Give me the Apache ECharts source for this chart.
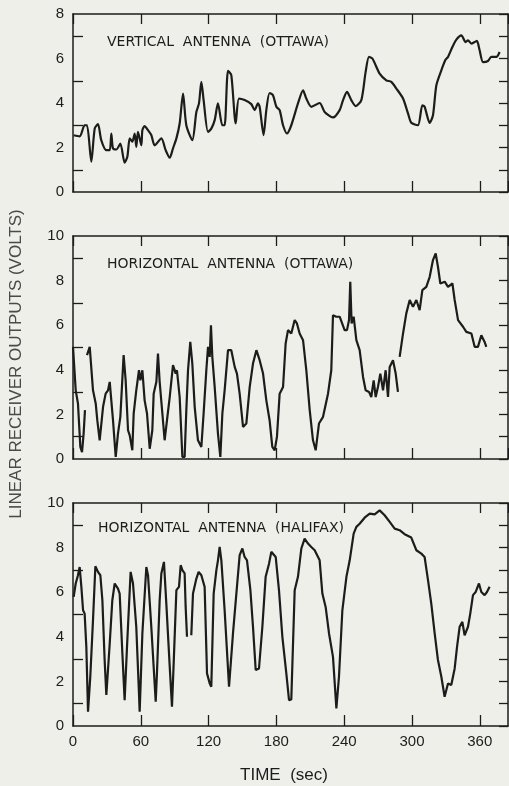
<!DOCTYPE html>
<html>
<head>
<meta charset="utf-8">
<script src="https://cdn.jsdelivr.net/npm/echarts@6/dist/echarts.min.js"></script>
<style>
  html, body { margin: 0; padding: 0; background: #efefe9; }
  #chart { width: 509px; height: 786px; }
</style>
</head>
<body>
<div id="chart"></div>
<script>
// time ticks (sec)
var timeTicks = [0, 60, 120, 180, 240, 300, 360];

// vertical antenna (Ottawa)
var vertTime = [0.6, 5.9, 10.3, 12.4, 16.2, 19.2, 22.1, 25, 29.5, 32.5, 33.9, 35.4, 38.4, 41.9, 45.7, 48.1, 50.2, 52.5, 54.6, 56, 57.5, 60.5, 61.4, 63.4, 66.4, 69.3, 72.3, 78.2, 82, 85.6, 88.5, 91.5, 94.4, 97.4, 100.3, 105.6, 109.2, 111.5, 113.6, 115.6, 119.5, 122.4, 125.4, 128.3, 132.2, 134.2, 137.2, 140.1, 144, 146.9, 151.9, 157.8, 160.8, 163.7, 165.2, 168.7, 171.1, 174, 177, 180, 182.9, 185.9, 189.4, 193.2, 199.1, 203.6, 206.5, 210.9, 218.3, 222.7, 230.1, 236, 239, 242.5, 246.3, 250.2, 255.2, 259, 262, 265, 271.4, 277.3, 281.7, 286.2, 292.1, 296.5, 299.4, 305.3, 309.2, 311.2, 315.7, 318.6, 321.6, 326, 329.8, 331.9, 335.8, 339.3, 343.7, 347.5, 349.6, 352.6, 355.5, 357.5, 359.9, 362.9, 367.3, 370.2, 374.7, 377.6];
var vertVolts = [2.55, 2.5, 3.0, 3.0, 1.36, 2.85, 3.05, 2.33, 1.88, 1.88, 2.63, 1.96, 1.91, 2.18, 1.32, 1.58, 2.41, 2.26, 2.63, 2.03, 2.7, 2.1, 2.78, 2.96, 2.78, 2.56, 2.1, 2.41, 1.88, 1.54, 1.96, 2.41, 3.08, 4.42, 3.0, 2.33, 3.6, 3.98, 4.95, 4.13, 2.7, 2.85, 3.23, 3.98, 3.0, 3.0, 5.44, 5.25, 3.08, 4.2, 4.13, 3.95, 3.68, 3.98, 3.83, 2.56, 3.68, 4.45, 4.35, 3.83, 3.68, 3.0, 2.63, 3.0, 3.98, 4.57, 4.2, 3.83, 4.0, 3.6, 3.35, 3.68, 4.13, 4.5, 4.13, 3.86, 4.13, 5.4, 6.07, 6.0, 5.32, 5.02, 4.95, 4.65, 4.2, 3.53, 3.11, 3.0, 3.9, 3.83, 3.11, 3.45, 4.8, 5.47, 5.95, 6.07, 6.52, 6.85, 7.04, 6.74, 6.82, 6.67, 6.74, 6.79, 6.37, 5.84, 5.89, 6.07, 6.07, 6.29];

// horizontal antenna (Ottawa); '-' marks a break in the trace
var horOttTime = [0, 2.4, 4.4, 6.5, 8, 9.4, 10.6, 11.5, 12.4, 14.8, 16.2, 17.7, 20.1, 21.5, 23.6, 26.6, 28.9, 31, 32.5, 33.9, 35.4, 37.8, 39.8, 41.9, 44.8, 46.6, 48.7, 50.2, 52.5, 53.7, 56, 58.4, 59.6, 61.4, 63.4, 65.5, 67.9, 70.2, 71.4, 73.8, 75.2, 76.7, 79.1, 81.1, 83.2, 85.6, 88.5, 90.9, 92, 94.4, 96.8, 98.8, 100.3, 101.8, 103.8, 105.6, 107.7, 110.6, 113.6, 115.6, 118, 119.5, 121, 122.1, 123.3, 125.4, 128.3, 130.4, 132.2, 134.2, 137.2, 140.1, 143.1, 145.1, 147.5, 150.5, 153.4, 156.4, 159.3, 162.3, 165.2, 168.2, 171.1, 174, 176.4, 178.5, 180.5, 182.9, 185.9, 188.2, 190.3, 193.2, 196.2, 198.2, 200.6, 203.6, 206.5, 209.5, 212.4, 214.8, 217.7, 221.3, 225.7, 228.6, 230.1, 233, 236, 240.4, 242.5, 244.3, 245.4, 246.6, 248.4, 250.8, 253.7, 256.7, 259, 262, 264, 266.1, 267.9, 269.9, 272, 274.4, 276.7, 278.8, 280.3, 283.2, 285.6, 287.6, 288.4, 289.1, 292.1, 295, 298, 300.9, 303.9, 306.8, 309.2, 312.7, 315.7, 318.6, 321, 323, 325.1, 329, 331.9, 335.8, 337.8, 340.8, 345.2, 348.1, 352.6, 355.5, 358.4, 361.4, 364.3, 365.8];
var horOttVolts = [5.03, 3.08, 2.49, 0.54, 0.31, 1.14, 2.19, '-', 4.66, 5.03, 4.96, 3.08, 2.49, 1.74, 0.84, 2.34, 2.93, 3.08, 3.46, 2.63, 1.74, 0.09, 1.14, 1.89, 4.66, 3.53, 1.29, 1.06, 0.39, 2.04, 3.08, 3.98, 3.53, 3.98, 2.63, 2.04, 0.46, 1.29, 2.93, 3.46, 4.73, 3.46, 2.04, 0.84, 1.74, 2.78, 4.21, 3.83, 3.98, 2.78, 0.09, 0.09, 2.19, 3.98, 5.25, 4.28, 2.34, 0.84, 0.54, 2.04, 3.98, 5.03, 4.58, 6.0, 4.58, 3.23, 1.14, 0.09, 2.04, 3.08, 4.88, 4.88, 4.13, 3.83, 2.93, 1.44, 1.59, 3.23, 4.28, 4.88, 4.43, 3.83, 2.63, 1.74, 0.54, 0.39, 0.99, 2.93, 3.23, 5.18, 5.78, 5.63, 6.23, 6.08, 5.63, 5.33, 3.98, 2.19, 0.84, 0.39, 1.59, 1.89, 2.93, 3.98, 6.45, 6.38, 6.38, 5.78, 5.78, 6.23, 7.95, 6.08, 6.38, 5.33, 4.88, 3.68, 3.08, 3.01, 2.78, 3.53, 2.78, 3.23, 3.83, 3.08, 3.98, 2.78, 4.13, 4.43, 3.83, 3.01, '-', 4.58, 5.63, 6.53, 7.13, 6.83, 7.13, 6.68, 7.57, 7.72, 8.17, 8.92, 9.22, 8.62, 7.87, 7.95, 7.72, 7.87, 7.13, 6.23, 5.93, 5.7, 5.63, 5.03, 5.03, 5.55, 5.25, 5.03];

// horizontal antenna (Halifax)
var horHalTime = [0.6, 2.4, 4.4, 5.9, 7.4, 8.9, 10.3, 11.8, 13.3, 15.3, 17.7, 19.8, 22.1, 24.2, 26, 28, 29.5, 32.5, 34.8, 36.9, 39.8, 41.3, 43.7, 45.7, 47.8, 51, 53.1, 56, 58.4, 59, 61.4, 64.9, 66.4, 69.3, 73.2, 74.3, 76.7, 78.2, 80.5, 82.6, 85.6, 87.6, 89.1, 91.5, 93.8, 95.3, 96.8, 98.8, 99.7, 100.9, 102.8, 104.7, 106.2, 109.2, 111.2, 113.6, 116.5, 118.6, 121, 122.4, 124.5, 126.9, 128.3, 129.8, 131.3, 134.2, 138.1, 141.6, 145.1, 147.5, 149.9, 151.9, 154, 157, 159.3, 161.7, 164.6, 167.6, 170.5, 173.5, 175.5, 179.4, 182.3, 185.3, 188.8, 191.2, 193.2, 196.2, 199.1, 202.1, 205, 208, 210.9, 213.9, 218.3, 220.7, 223.6, 226.6, 230.1, 233.1, 235.4, 238.4, 242, 244.9, 248.4, 250.8, 253.7, 258.1, 262.6, 267, 271.4, 275.8, 280.3, 284.7, 289.1, 293.5, 299.4, 303.9, 308.3, 311.2, 314.2, 317.1, 320.1, 323, 326, 328.9, 331.9, 334.8, 337.8, 339.9, 342.2, 344.6, 346.6, 349.6, 351.6, 354, 356.4, 359.3, 361.4, 364.3, 366.4, 368.7];
var horHalVolts = [5.79, 6.39, 6.76, 7.13, 6.24, 5.19, 5.04, 3.55, 0.64, 2.21, 4.75, 7.16, 6.91, 6.76, 5.64, 2.96, 1.39, 3.7, 5.64, 6.39, 6.16, 5.94, 3.25, 1.16, 3.55, 6.91, 6.39, 4.45, 1.46, 0.64, 4.15, 7.13, 6.76, 4.45, 1.09, 2.36, 5.64, 6.84, 7.36, 5.49, 2.66, 0.87, 2.81, 6.09, 6.24, 7.21, 6.99, 6.84, 5.34, 4.0, '-', 4.07, 5.94, 6.61, 6.91, 6.76, 6.24, 2.36, 1.91, 1.76, 5.94, 6.99, 7.43, 8.03, 7.43, 5.19, 1.76, 4.15, 6.24, 7.66, 7.96, 7.58, 7.43, 6.09, 4.45, 2.51, 2.58, 4.45, 6.69, 7.28, 7.81, 7.58, 6.09, 4.0, 2.36, 1.16, 1.19, 6.09, 6.69, 7.96, 8.4, 8.18, 8.03, 7.88, 7.43, 5.94, 5.34, 4.15, 3.1, 0.79, 2.21, 5.19, 6.69, 7.43, 8.63, 8.93, 9.07, 9.34, 9.52, 9.49, 9.67, 9.45, 9.15, 8.85, 8.78, 8.6, 8.45, 7.88, 7.73, 7.58, 6.54, 5.49, 4.15, 2.96, 2.21, 1.31, 1.91, 1.84, 2.58, 3.55, 4.45, 4.67, 4.07, 4.45, 5.04, 5.87, 6.01, 6.39, 6.01, 5.87, 6.01, 6.24];

var panelTitles = ['VERTICAL  ANTENNA  (OTTAWA)', 'HORIZONTAL  ANTENNA  (OTTAWA)', 'HORIZONTAL  ANTENNA  (HALIFAX)'];
var panelMax = [8, 10, 10];

var chart = echarts.init(document.getElementById('chart'));

var ink = '#1c1c1c';
var labelFont = "'Liberation Sans Narrow', 'Liberation Sans', sans-serif";

function zip(xs, ys) {
  return xs.map(function (x, i) { return [x, ys[i]]; });
}

var grids = [
  { left: 73, top: 14, width: 435, height: 178 },
  { left: 73, top: 236, width: 435, height: 223 },
  { left: 73, top: 503, width: 435, height: 223 }
];

var xAxes = [];
var yAxes = [];
grids.forEach(function (g, i) {
  var last = i === grids.length - 1;
  // bottom time axis
  xAxes.push({
    type: 'value', gridIndex: i, position: 'bottom', min: 0, max: 385, interval: 60,
    axisLine: { onZero: false, lineStyle: { color: ink, width: 1.5 } },
    axisTick: { inside: true, length: 11, lineStyle: { color: ink, width: 1.3 } },
    axisLabel: { show: last, showMaxLabel: false, color: ink, fontSize: 15, margin: 8, fontFamily: labelFont },
    splitLine: { show: false }
  });
  // top border with ticks
  xAxes.push({
    type: 'value', gridIndex: i, position: 'top', min: 0, max: 385, interval: 60,
    axisLine: { onZero: false, lineStyle: { color: ink, width: 1.5 } },
    axisTick: { inside: true, length: 10, lineStyle: { color: ink, width: 1.3 } },
    axisLabel: { show: false },
    splitLine: { show: false }
  });
  // left volts axis: labels every 2, ticks on odd values
  yAxes.push({
    type: 'value', gridIndex: i, position: 'left', min: 0, max: panelMax[i], interval: 2,
    axisLine: { onZero: false, lineStyle: { color: ink, width: 1.5 } },
    axisTick: { show: false, inside: true },
    minorTick: { show: true, splitNumber: 2, length: 10, lineStyle: { color: ink, width: 1.3 } },
    axisLabel: { color: ink, fontSize: 15, margin: 9, fontFamily: labelFont },
    splitLine: { show: false }
  });
  // right border with ticks every volt
  yAxes.push({
    type: 'value', gridIndex: i, position: 'right', min: 0, max: panelMax[i], interval: 1,
    axisLine: { onZero: false, lineStyle: { color: ink, width: 1.5 } },
    axisTick: { inside: true, length: 9, lineStyle: { color: ink, width: 1.3 } },
    axisLabel: { show: false },
    splitLine: { show: false }
  });
});

var seriesData = [zip(vertTime, vertVolts), zip(horOttTime, horOttVolts), zip(horHalTime, horHalVolts)];

var series = seriesData.map(function (d, i) {
  return {
    type: 'line', xAxisIndex: i * 2, yAxisIndex: i * 2, data: d,
    showSymbol: false, connectNulls: false, smooth: i === 0 ? 0.25 : false,
    lineStyle: { color: ink, width: 2.2 }, animation: false
  };
});

var titleTops = [35, 257, 521];
var titleLefts = [107, 107, 98];

var option = {
  backgroundColor: '#efefe9',
  animation: false,
  title: panelTitles.map(function (t, i) {
    return {
      text: t, left: titleLefts[i], top: titleTops[i], padding: 0,
      textStyle: { color: ink, fontSize: 14, fontWeight: 'normal', fontFamily: "'DejaVu Sans', sans-serif" }
    };
  }),
  grid: grids,
  xAxis: xAxes,
  yAxis: yAxes,
  series: series,
  graphic: [
    {
      type: 'text', x: 284, y: 775,
      style: {
        text: 'TIME  (sec)', fill: ink, fontSize: 17, align: 'center', verticalAlign: 'middle',
        fontFamily: "'Liberation Sans', sans-serif"
      }
    },
    {
      type: 'text', x: 16, y: 364, rotation: Math.PI / 2,
      style: {
        text: 'LINEAR RECEIVER OUTPUTS (VOLTS)', fill: '#4a4a4a', fontSize: 17,
        fontFamily: "'Liberation Sans', sans-serif", align: 'center', verticalAlign: 'middle'
      }
    }
  ]
};

chart.setOption(option);
</script>
</body>
</html>
